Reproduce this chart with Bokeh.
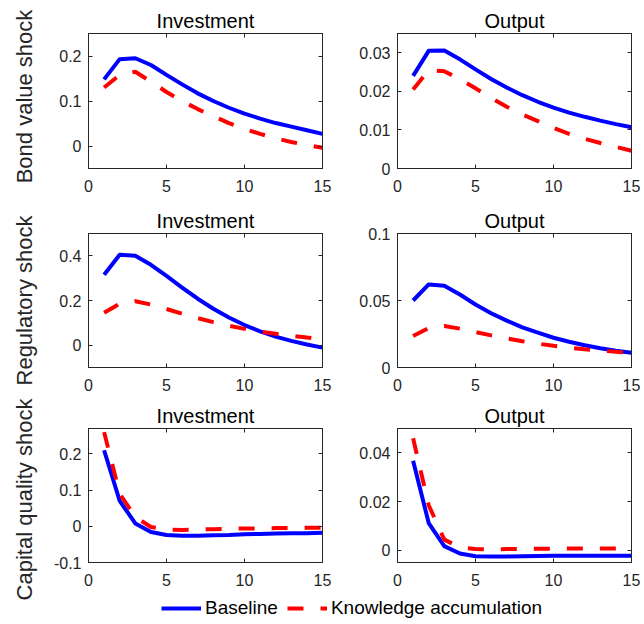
import math
from bokeh.plotting import figure
from bokeh.layouts import column, row
from bokeh.models import (Range1d, FixedTicker, LinearAxis, Legend, LegendItem, Label,
                          PrintfTickFormatter, CustomJSTickFormatter)
from bokeh.embed import file_html
from bokeh.resources import INLINE

FONT = "Liberation Sans"
AX = "#262626"

# ---------------- data ----------------
periods = list(range(1, 16))
series_names = ["Baseline", "Knowledge accumulation"]
row_labels = ["Bond value shock", "Regulatory shock", "Capital quality shock"]
col_titles = ["Investment", "Output"]
x_ticks = [0, 5, 10, 15]

# Bond value shock
inv_bond_base = [0.148, 0.193, 0.195, 0.180, 0.158, 0.137, 0.117, 0.100, 0.085, 0.072, 0.061, 0.051, 0.043, 0.035, 0.027]
inv_bond_know = [0.130, 0.158, 0.165, 0.143, 0.120, 0.100, 0.082, 0.066, 0.051, 0.038, 0.027, 0.017, 0.009, 0.002, -0.004]
out_bond_base = [0.0240, 0.0305, 0.0306, 0.0283, 0.0257, 0.0232, 0.0210, 0.0190, 0.0173, 0.0158, 0.0145, 0.0134, 0.0124, 0.0115, 0.0107]
out_bond_know = [0.0205, 0.0255, 0.0252, 0.0232, 0.0208, 0.0183, 0.0160, 0.0140, 0.0123, 0.0105, 0.0090, 0.0077, 0.0066, 0.0056, 0.0046]

# Regulatory shock
inv_reg_base = [0.315, 0.405, 0.400, 0.360, 0.310, 0.258, 0.208, 0.163, 0.124, 0.090, 0.062, 0.038, 0.019, 0.003, -0.011]
inv_reg_know = [0.145, 0.185, 0.197, 0.182, 0.162, 0.141, 0.121, 0.103, 0.087, 0.073, 0.061, 0.051, 0.042, 0.034, 0.027]
out_reg_base = [0.0500, 0.0620, 0.0610, 0.0545, 0.0470, 0.0405, 0.0350, 0.0300, 0.0260, 0.0222, 0.0192, 0.0166, 0.0144, 0.0125, 0.0110]
out_reg_know = [0.0235, 0.0295, 0.0310, 0.0290, 0.0265, 0.0240, 0.0217, 0.0196, 0.0178, 0.0162, 0.0148, 0.0136, 0.0126, 0.0117, 0.0109]

# Capital quality shock
inv_cap_base = [0.210, 0.070, 0.008, -0.016, -0.024, -0.026, -0.026, -0.025, -0.024, -0.022, -0.021, -0.020, -0.019, -0.019, -0.018]
inv_cap_know = [0.260, 0.090, 0.026, -0.002, -0.009, -0.010, -0.009, -0.008, -0.007, -0.006, -0.006, -0.005, -0.005, -0.004, -0.004]
out_cap_base = [0.0368, 0.0112, 0.0017, -0.0013, -0.0024, -0.0025, -0.0025, -0.0024, -0.0023, -0.0022, -0.0022, -0.0022, -0.0022, -0.0022, -0.0022]
out_cap_know = [0.0460, 0.0185, 0.0044, 0.0012, 0.0005, 0.0004, 0.0005, 0.0006, 0.0006, 0.0007, 0.0007, 0.0007, 0.0007, 0.0007, 0.0007]

# axis limits and ticks
y_ranges = [[(-0.05, 0.25), (0.0, 0.035)],
            [(-0.1, 0.5), (0.0, 0.1)],
            [(-0.1, 0.27), (-0.005, 0.05)]]
y_ticks = [[[0, 0.1, 0.2], [0, 0.01, 0.02, 0.03]],
           [[0, 0.2, 0.4], [0, 0.05, 0.1]],
           [[-0.1, 0, 0.1, 0.2], [0, 0.02, 0.04]]]

data = [[(inv_bond_base, inv_bond_know), (out_bond_base, out_bond_know)],
        [(inv_reg_base, inv_reg_know), (out_reg_base, out_reg_know)],
        [(inv_cap_base, inv_cap_know), (out_cap_base, out_cap_know)]]

# layout (pixels)
TOTAL_H = 624
STRIP_W = 40
row_heights = [(33, 135, 32), (33, 134, 31), (30, 134, 31)]   # top border, frame, bottom border
col_widths = [(48, 234, 33), (42, 234, 13)]                    # left border, frame, right border
row_label_pos = [(23.5, 96), (23.5, 300), (23.5, 499)]         # centre of each rotated row label


def style_axis(ax, ticks, standoff, blank=False):
    ax.ticker = FixedTicker(ticks=ticks)
    ax.major_tick_in = 4
    ax.major_tick_out = 0
    ax.minor_tick_line_color = None
    ax.axis_line_color = AX
    ax.major_tick_line_color = AX
    ax.major_label_text_color = AX
    ax.major_label_text_font = FONT
    ax.major_label_text_font_size = "16px"
    ax.major_label_standoff = standoff
    if blank:
        ax.formatter = CustomJSTickFormatter(code="return ''")
        ax.major_label_standoff = 0
        ax.major_label_text_font_size = "0px"
    else:
        ax.formatter = PrintfTickFormatter(format="%g")


# strip on the left holding the row labels
strip = figure(width=STRIP_W, height=TOTAL_H, x_range=Range1d(0, STRIP_W),
               y_range=Range1d(TOTAL_H, 0), output_backend="svg",
               toolbar_location=None, min_border=0)
strip.axis.visible = False
strip.grid.visible = False
strip.outline_line_color = None
for lab, (lx, ly) in zip(row_labels, row_label_pos):
    strip.add_layout(Label(x=lx, y=ly, text=lab, angle=math.pi / 2,
                           text_align="center", text_baseline="middle",
                           text_font=FONT, text_font_size="22px", text_color=AX))

rows = []
for i in range(3):
    figs = []
    bt, fh, bb = row_heights[i]
    for j in range(2):
        bl, fw, br = col_widths[j]
        base, know = data[i][j]
        p = figure(width=bl + fw + br, height=bt + fh + bb,
                   x_range=Range1d(0, 15), y_range=Range1d(*y_ranges[i][j]),
                   output_backend="svg", toolbar_location=None,
                   min_border_left=bl, min_border_right=br,
                   min_border_top=bt, min_border_bottom=bb)
        p.grid.visible = False
        p.outline_line_color = AX
        p.background_fill_color = "white"
        p.border_fill_color = "white"
        style_axis(p.xaxis[0], x_ticks, 11)
        style_axis(p.yaxis[0], y_ticks[i][j], 7)
        top = LinearAxis()
        style_axis(top, x_ticks, 0, blank=True)
        p.add_layout(top, "above")
        right = LinearAxis()
        style_axis(right, y_ticks[i][j], 0, blank=True)
        p.add_layout(right, "right")

        p.title.text = col_titles[j]
        p.title.align = "center"
        p.title.text_font = FONT
        p.title.text_font_size = "20px"
        p.title.text_font_style = "normal"
        p.title.text_color = "black"
        p.title.standoff = 4

        p.line(periods, base, line_color="blue", line_width=4, line_join="round")
        p.line(periods, know, line_color="red", line_width=4, line_dash="16 17")
        figs.append(p)
    rows.append(row(*figs))

# legend strip (sample lines use the first panel's series, drawn outside the visible range)
lf = figure(width=644 - STRIP_W, height=31, x_range=Range1d(0, 15), y_range=Range1d(5, 6),
            output_backend="svg", toolbar_location=None, min_border=0)
lf.axis.visible = False
lf.grid.visible = False
lf.outline_line_color = None
r1 = lf.line(periods, inv_bond_base, line_color="blue", line_width=4)
r2 = lf.line(periods, inv_bond_know, line_color="red", line_width=4, line_dash="16 17")
legend = Legend(items=[LegendItem(label=series_names[0], renderers=[r1]),
                       LegendItem(label=series_names[1], renderers=[r2])],
                orientation="horizontal", location=(161 - STRIP_W, 5), padding=0, margin=0,
                spacing=9, glyph_width=40, glyph_height=20, label_standoff=4,
                border_line_color=None, background_fill_alpha=0,
                label_text_font=FONT, label_text_font_size="19px", label_text_color="black")
lf.add_layout(legend)

layout = row(strip, column(*rows, lf))
open("out.html", "w").write(file_html(layout, INLINE))
